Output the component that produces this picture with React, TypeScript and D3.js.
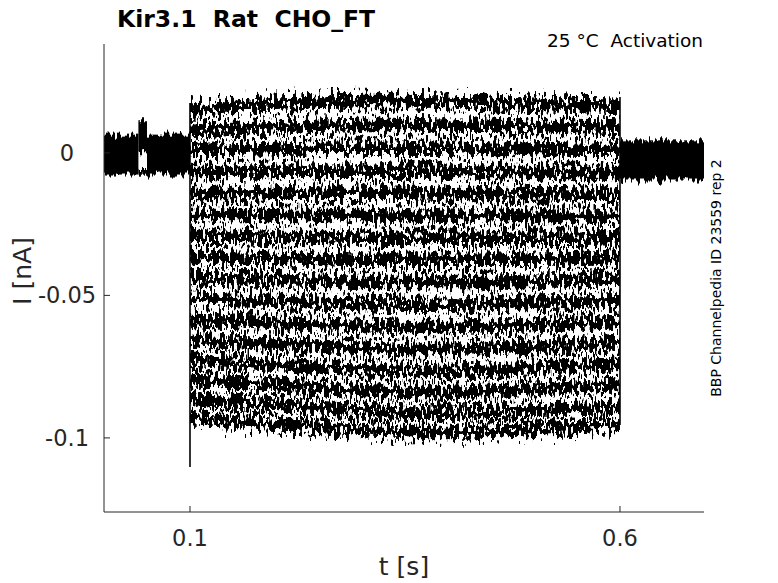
import React from 'react';
import * as d3 from 'd3';

const W = 778;
const H = 583;
const margin = { top: 44, right: 74, bottom: 71, left: 104 };

// axes
const xDomain = [0, 0.6977];
const yDomain = [-0.126, 0.0382];
const xTicks = [0.1, 0.6];
const xTickLabels = ['0.1', '0.6'];
const yTicks = [0, -0.05, -0.1];
const yTickLabels = ['0', '-0.05', '-0.1'];

// pulse: sample times and mean current of each sweep (nA)
const stepTimes = [0.1, 0.15, 0.2, 0.25, 0.3, 0.35, 0.4, 0.45, 0.5, 0.55, 0.6];
const sweepLevels = [
  [0.0151, 0.0161, 0.0172, 0.0179, 0.0182, 0.0182, 0.0179, 0.0175, 0.0172, 0.0168, 0.0165],
  [0.0081, 0.0084, 0.0091, 0.0095, 0.0098, 0.0098, 0.0095, 0.0095, 0.0091, 0.0091, 0.0088],
  [0.0011, 0.0011, 0.0014, 0.0018, 0.0018, 0.0018, 0.0018, 0.0014, 0.0014, 0.0011, 0.0011],
  [-0.0067, -0.0067, -0.0063, -0.0063, -0.0063, -0.0063, -0.0063, -0.0067, -0.0067, -0.0067, -0.0067],
  [-0.0144, -0.0144, -0.014, -0.014, -0.014, -0.014, -0.0144, -0.0144, -0.0144, -0.0147, -0.0147],
  [-0.0218, -0.0218, -0.0218, -0.0218, -0.0218, -0.0221, -0.0221, -0.0221, -0.0221, -0.0221, -0.0221],
  [-0.0291, -0.0291, -0.0295, -0.0295, -0.0298, -0.0298, -0.0298, -0.0298, -0.0298, -0.0298, -0.0295],
  [-0.0365, -0.0368, -0.0368, -0.0372, -0.0375, -0.0375, -0.0375, -0.0375, -0.0375, -0.0372, -0.0368],
  [-0.0439, -0.0442, -0.0446, -0.0449, -0.0453, -0.0453, -0.0453, -0.0453, -0.0449, -0.0446, -0.0442],
  [-0.0512, -0.0516, -0.0519, -0.0526, -0.053, -0.0533, -0.0533, -0.053, -0.0526, -0.0523, -0.0516],
  [-0.0586, -0.0589, -0.0596, -0.0604, -0.0607, -0.0611, -0.0611, -0.0607, -0.0604, -0.0596, -0.0589],
  [-0.0656, -0.0663, -0.067, -0.0677, -0.0684, -0.0688, -0.0688, -0.0684, -0.0681, -0.0674, -0.0667],
  [-0.0726, -0.0733, -0.0744, -0.0751, -0.0758, -0.0765, -0.0765, -0.0761, -0.0754, -0.0747, -0.074],
  [-0.0796, -0.0804, -0.0814, -0.0825, -0.0832, -0.0839, -0.0839, -0.0835, -0.0828, -0.0821, -0.0814],
  [-0.0863, -0.0874, -0.0884, -0.0895, -0.0905, -0.0912, -0.0912, -0.0909, -0.0902, -0.0895, -0.0891],
  [-0.093, -0.094, -0.0951, -0.0961, -0.0972, -0.0979, -0.0979, -0.0975, -0.0968, -0.0961, -0.0954],
];
// half-width of the noise envelope around each sweep (nA)
const noiseHalf = 0.0022;

// holding current before and after the pulse: [t0, t1, upper, lower]
const holdBands = [
  [0, 0.04, 0.0064, -0.0076],
  [0.04, 0.05, 0.0118, 0.0002],
  [0.04, 0.05, -0.006, -0.008],
  [0.05, 0.1, 0.0064, -0.0076],
  [0.6, 0.6977, 0.0044, -0.0097],
];

// capacitive transients at the step edges: [t, min, max]
const transients = [
  [0.1, -0.1102, 0.0175],
  [0.6, -0.0955, 0.0196],
];

const font = '"DejaVu Sans", sans-serif';
const axisColor = '#262626';

export default function App() {
  const x = d3.scaleLinear().domain(xDomain).range([margin.left, W - margin.right]);
  const y = d3.scaleLinear().domain(yDomain).range([H - margin.bottom, margin.top]);

  const band = d3
    .area<[number, number]>()
    .x(d => x(d[0]))
    .y0(d => y(d[1] - noiseHalf))
    .y1(d => y(d[1] + noiseHalf));

  const plotW = W - margin.left - margin.right;
  const plotH = H - margin.top - margin.bottom;
  const x0 = margin.left;
  const yBase = H - margin.bottom;

  const noiseFilter = (id: string, freq: string, scale: number, seed: number) => (
    <filter
      id={id}
      filterUnits="userSpaceOnUse"
      x={x0}
      y={margin.top}
      width={plotW}
      height={plotH}
      colorInterpolationFilters="sRGB"
    >
      <feTurbulence type="fractalNoise" baseFrequency={freq} numOctaves={2} seed={seed} result="n" />
      <feColorMatrix in="n" type="matrix" values="1 0 0 0 0  0 1 0 0 0  0 0 1 0 0  0 0 0 0 0.5" result="m" />
      <feDisplacementMap in="SourceGraphic" in2="m" scale={scale} xChannelSelector="A" yChannelSelector="G" />
    </filter>
  );

  return (
    <svg width={W} height={H} style={{ position: 'absolute', left: 0, top: 0, background: '#fff' }}>
      <defs>
        {noiseFilter('jitter', '0.32 0.12', 34, 7)}
        {noiseFilter('jitterHold', '0.4 0.02', 16, 11)}
      </defs>

      <g filter="url(#jitterHold)">
        {holdBands.map((b, i) => (
          <rect key={'h' + i} x={x(b[0])} y={y(b[2])} width={x(b[1]) - x(b[0])} height={y(b[3]) - y(b[2])} fill="#000" />
        ))}
      </g>
      <g filter="url(#jitter)">
        {sweepLevels.map((lv, i) => (
          <path key={'s' + i} d={band(stepTimes.map((t, j) => [t, lv[j]] as [number, number])) || ''} fill="#000" />
        ))}
      </g>

      {transients.map((tr, i) => (
        <line key={'t' + i} x1={x(tr[0])} x2={x(tr[0])} y1={y(tr[1])} y2={y(tr[2])} stroke="#000" strokeWidth={1.6} />
      ))}

      {/* axes */}
      <line x1={x0} x2={x0} y1={margin.top} y2={yBase} stroke={axisColor} strokeWidth={1} />
      <line x1={x0} x2={W - margin.right} y1={yBase} y2={yBase} stroke={axisColor} strokeWidth={1} />
      {yTicks.map((t, i) => (
        <g key={'yt' + i}>
          <line x1={x0} x2={x0 + 6} y1={y(t)} y2={y(t)} stroke={axisColor} />
          <text x={67} y={y(t)} dy="0.35em" textAnchor="middle" fontFamily={font} fontSize={22.5} fill={axisColor}>
            {yTickLabels[i]}
          </text>
        </g>
      ))}
      {xTicks.map((t, i) => (
        <g key={'xt' + i}>
          <line x1={x(t)} x2={x(t)} y1={yBase} y2={yBase - 6} stroke={axisColor} />
          <text x={x(t)} y={546} textAnchor="middle" fontFamily={font} fontSize={22.5} fill={axisColor}>
            {xTickLabels[i]}
          </text>
        </g>
      ))}

      <text x={x0 + plotW / 2} y={575} textAnchor="middle" fontFamily={font} fontSize={25} fill={axisColor}>
        t [s]
      </text>
      <text
        transform={`translate(31, 271) rotate(-90)`}
        textAnchor="middle"
        fontFamily={font}
        fontSize={25}
        fill={axisColor}
      >
        I [nA]
      </text>

      <text x={117} y={27} fontFamily={font} fontSize={23.5} fontWeight="bold" fill="#000" style={{ whiteSpace: 'pre' }}>
        {'Kir3.1  Rat  CHO_FT'}
      </text>
      <text x={703} y={47} textAnchor="end" fontFamily={font} fontSize={18.5} fill="#000" style={{ whiteSpace: 'pre' }}>
        {'25 °C  Activation'}
      </text>
      <text
        transform={`translate(721, 278) rotate(-90)`}
        textAnchor="middle"
        fontFamily={font}
        fontSize={14}
        fill="#000"
      >
        BBP Channelpedia ID 23559 rep 2
      </text>
    </svg>
  );
}
